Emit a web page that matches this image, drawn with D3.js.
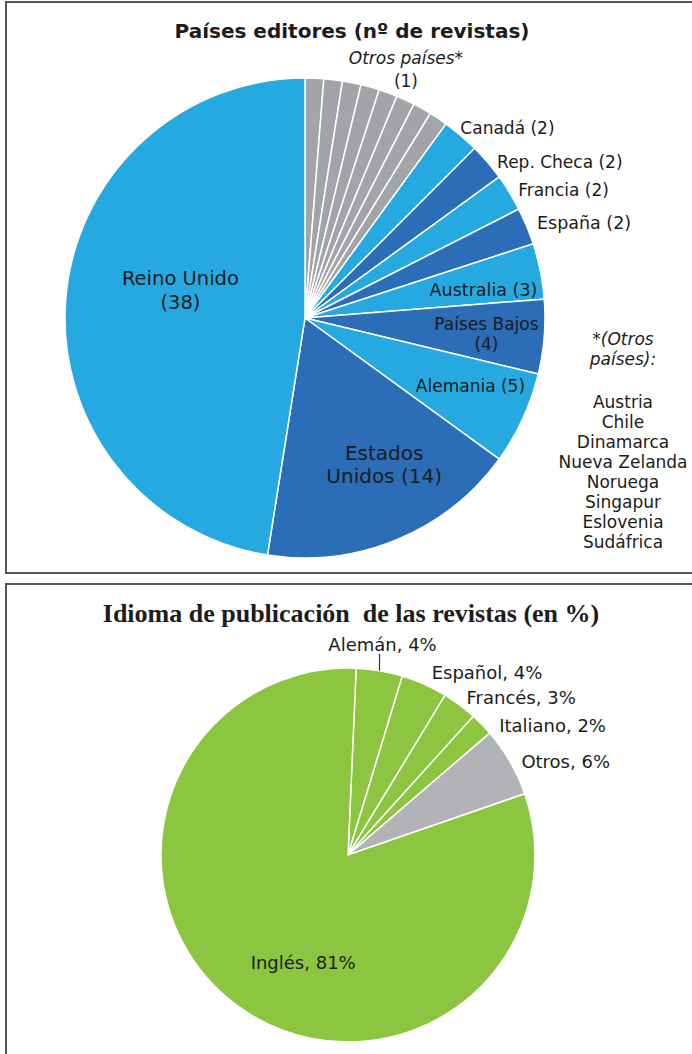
<!DOCTYPE html>
<html>
<head>
<meta charset="utf-8">
<script src="https://cdn.jsdelivr.net/npm/d3@7/dist/d3.min.js"></script>
<style>
  body { margin: 0; background: #fff; }
  text { fill: #1c1c1c; }
</style>
</head>
<body>
<div id="chart"></div>
<script>
// ---- datos: países editores (nº de revistas)
const otrosPaises = ["Austria", "Chile", "Dinamarca", "Nueva Zelanda", "Noruega", "Singapur", "Eslovenia", "Sudáfrica"];
const otrosValor = 1;
const paises = ["Canadá", "Rep. Checa", "Francia", "España", "Australia", "Países Bajos", "Alemania", "Estados Unidos", "Reino Unido"];
const revistas = [2, 2, 2, 2, 3, 4, 5, 14, 38];

// ---- datos: idioma de publicación (en %)
const idiomas = ["Alemán", "Español", "Francés", "Italiano", "Otros", "Inglés"];
const porcentajes = [4, 4, 3, 2, 6, 81];

const width = 692, height = 1054;
const sans = "'DejaVu Sans', Verdana, sans-serif";
const lightBlue = "#25a9e0", darkBlue = "#2b6db6", greyTop = "#a3a4a7";
const green = "#8cc540", greyBottom = "#b2b3b7";

const svg = d3.select("#chart").append("svg")
    .attr("width", width)
    .attr("height", height)
    .style("font-family", sans);

// marcos de los dos gráficos
svg.append("rect").attr("x", 6).attr("y", 2).attr("width", 720).attr("height", 571)
    .attr("fill", "none").attr("stroke", "#555").attr("stroke-width", 2);
svg.append("rect").attr("x", 6).attr("y", 584).attr("width", 720).attr("height", 520)
    .attr("fill", "none").attr("stroke", "#555").attr("stroke-width", 2);

function polar(angle, r) {
  return [r * Math.sin(angle), -r * Math.cos(angle)];
}

// ======== gráfico 1: Países editores
const top1 = {cx: 305, cy: 318, r: 240};
const rows1 = otrosPaises.map(name => ({name, value: otrosValor, otro: true}))
    .concat(paises.map((name, i) => ({name, value: revistas[i], otro: false})));

const pie1 = d3.pie().sort(null).value(d => d.value)(rows1);
const arc1 = d3.arc().innerRadius(0).outerRadius(top1.r);

const g1 = svg.append("g").attr("transform", `translate(${top1.cx},${top1.cy})`);
g1.selectAll("path")
  .data(pie1)
  .join("path")
    .attr("d", arc1)
    .attr("fill", d => d.data.otro ? greyTop : (d.index - otrosPaises.length) % 2 === 0 ? lightBlue : darkBlue)
    .attr("stroke", "#fff")
    .attr("stroke-width", 1.5);

svg.append("text")
    .attr("x", 352).attr("y", 38)
    .attr("text-anchor", "middle")
    .attr("font-weight", "bold")
    .attr("font-size", 20)
    .text("Países editores (nº de revistas)");

// posición de las etiquetas (radio, desplazamiento, líneas)
const labelLayout1 = {
  "Canadá":         {r: 250, dx: -7, dy: 0, anchor: "start", size: 17},
  "Rep. Checa":     {r: 250, dx: 2, dy: 6, anchor: "start", size: 17},
  "Francia":        {r: 250, dx: 0, dy: 3, anchor: "start", size: 17},
  "España":         {r: 250, dx: 1, dy: 1, anchor: "start", size: 17.5},
  "Australia":      {r: 182, dx: 0, dy: 7, anchor: "middle", size: 17.5},
  "Países Bajos":   {r: 182, dx: 0, dy: 2, anchor: "middle", size: 17, split: true, lh: 20},
  "Alemania":       {r: 180, dx: 2, dy: -7, anchor: "middle", size: 17},
  "Estados Unidos": {r: 165, dx: 16, dy: -6, anchor: "middle", size: 20, split: true, lh: 23},
  "Reino Unido":    {r: 128, dx: 3, dy: -18, anchor: "middle", size: 19.5, split: true, lh: 24}
};

pie1.filter(d => !d.data.otro).forEach(d => {
  const L = labelLayout1[d.data.name];
  const lh = L.lh || 20;
  const mid = (d.startAngle + d.endAngle) / 2;
  const [x, y] = polar(mid, L.r);
  let lines = [`${d.data.name} (${d.data.value})`];
  if (L.split) {
    if (d.data.name === "Estados Unidos") lines = ["Estados", `Unidos (${d.data.value})`];
    else lines = [d.data.name, `(${d.data.value})`];
  }
  const t = g1.append("text")
      .attr("x", x + L.dx)
      .attr("y", y + L.dy - (lines.length - 1) * lh / 2)
      .attr("text-anchor", L.anchor)
      .attr("dominant-baseline", "central")
      .attr("font-size", L.size);
  lines.forEach((s, i) => {
    t.append("tspan").attr("x", x + L.dx).attr("dy", i === 0 ? 0 : lh).text(s);
  });
});

// etiqueta del grupo "Otros países"
const otrosArcs = pie1.filter(d => d.data.otro);
const otrosMid = (otrosArcs[0].startAngle + otrosArcs[otrosArcs.length - 1].endAngle) / 2;
const [ox, oy] = polar(otrosMid, 262);
g1.append("text")
    .attr("x", ox + 20).attr("y", oy - 11)
    .attr("text-anchor", "middle").attr("dominant-baseline", "central")
    .attr("font-size", 17).attr("font-style", "italic")
    .text("Otros países*");
g1.append("text")
    .attr("x", ox + 20).attr("y", oy + 12)
    .attr("text-anchor", "middle").attr("dominant-baseline", "central")
    .attr("font-size", 17)
    .text(`(${otrosValor})`);

// lista de otros países
const lista = svg.append("text")
    .attr("text-anchor", "middle")
    .attr("font-size", 17);
lista.append("tspan").attr("x", 623).attr("y", 345).attr("font-style", "italic").text("*(Otros");
lista.append("tspan").attr("x", 623).attr("dy", 20).attr("font-style", "italic").text("países):");
otrosPaises.forEach((p, i) => {
  lista.append("tspan").attr("x", 623).attr("dy", i === 0 ? 43 : 20).text(p);
});

// ======== gráfico 2: Idioma de publicación
const top2 = {cx: 348, cy: 855, r: 187};
const rows2 = idiomas.map((name, i) => ({name, value: porcentajes[i]}));
const start2 = 2.5 * Math.PI / 180;
const pie2 = d3.pie().sort(null).value(d => d.value)
    .startAngle(start2).endAngle(start2 + 2 * Math.PI)(rows2);
const arc2 = d3.arc().innerRadius(0).outerRadius(top2.r);

const g2 = svg.append("g").attr("transform", `translate(${top2.cx},${top2.cy})`);
g2.selectAll("path")
  .data(pie2)
  .join("path")
    .attr("d", arc2)
    .attr("fill", d => d.data.name === "Otros" ? greyBottom : green)
    .attr("stroke", "#fff")
    .attr("stroke-width", 1.5);

svg.append("text")
    .attr("x", 351).attr("y", 622)
    .attr("text-anchor", "middle")
    .style("font-family", "'Liberation Serif', 'DejaVu Serif', serif")
    .attr("font-weight", "bold")
    .attr("font-size", 26)
    .style("white-space", "pre")
    .text("Idioma de publicación  de las revistas (en %)");

const labelLayout2 = {
  "Español":  {r: 200, dx: 2, dy: 0, anchor: "start"},
  "Francés":  {r: 200, dx: -1, dy: 3, anchor: "start"},
  "Italiano": {r: 200, dx: 8, dy: 10, anchor: "start"},
  "Otros":    {r: 200, dx: 0, dy: 6, anchor: "start"},
  "Inglés":   {r: 112, dx: 0, dy: 5, anchor: "middle"}
};

pie2.forEach(d => {
  const mid = (d.startAngle + d.endAngle) / 2;
  const label = `${d.data.name}, ${d.data.value}%`;
  if (d.data.name === "Alemán") {
    // etiqueta con línea guía
    const [x0, y0] = polar(mid, top2.r);
    g2.append("line")
        .attr("x1", x0).attr("y1", y0)
        .attr("x2", x0).attr("y2", y0 - 17)
        .attr("stroke", "#333").attr("stroke-width", 1.2);
    g2.append("text")
        .attr("x", x0 + 3).attr("y", y0 - 26)
        .attr("text-anchor", "middle").attr("dominant-baseline", "central")
        .attr("font-size", 18)
        .text(label);
    return;
  }
  const L = labelLayout2[d.data.name];
  const [x, y] = polar(d.data.name === "Inglés" ? 203.6 * Math.PI / 180 : mid, L.r);
  g2.append("text")
      .attr("x", x + L.dx).attr("y", y + L.dy)
      .attr("text-anchor", L.anchor).attr("dominant-baseline", "central")
      .attr("font-size", 18)
      .text(label);
});
</script>
</body>
</html>
